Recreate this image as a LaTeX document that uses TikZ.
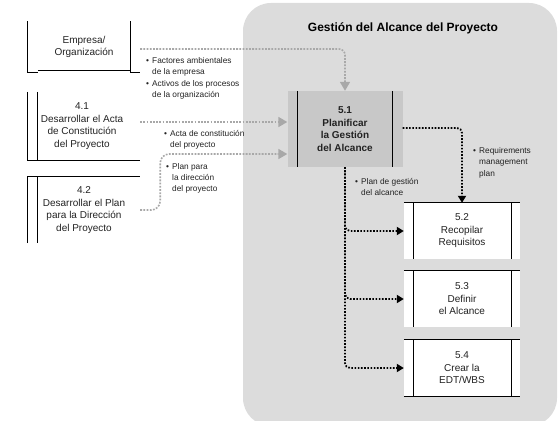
\documentclass[tikz,border=0pt]{standalone}
\usepackage{fontspec}
\setmainfont{Liberation Sans}
\usetikzlibrary{arrows.meta}

\definecolor{zonegray}{HTML}{DCDCDC}
\definecolor{boxgray}{HTML}{C8C8C8}
\definecolor{flowgray}{HTML}{A8A8A8}
\definecolor{inkgray}{HTML}{222222}

\newcommand{\bul}{\makebox[6pt][l]{\textbullet}}
\newcommand{\ind}{\hspace*{6pt}}

\begin{document}
\begin{tikzpicture}[x=1pt,y=-1pt,
  proc/.style={minimum width=112pt,inner sep=0pt,align=center,text=inkgray,font=\fontsize{10}{12.5}\selectfont},
  stage/.style={minimum width=116pt,minimum height=56pt,fill=white,inner sep=0pt,align=center,text=inkgray,font=\fontsize{10}{12.5}\selectfont},
  note/.style={anchor=north west,inner sep=0pt,align=left,text=inkgray,font=\fontsize{8.3}{11.5}\selectfont},
  edge/.style={draw=black,line width=1.2pt},
  grayflow/.style={draw=flowgray,line width=1.6pt,dash pattern=on 1.8pt off 1.4pt,-{Triangle[length=9pt,width=10pt]},rounded corners=6pt},
  blackflow/.style={draw=black,line width=1.8pt,dash pattern=on 1.6pt off 1.6pt,-{Triangle[length=7pt,width=8pt]},rounded corners=5pt}]
\useasboundingbox (0,0) rectangle (559,420);

% process group
\fill[zonegray,rounded corners=28pt] (243,3) rectangle (557,426);
\node[font=\bfseries\fontsize{12}{14}\selectfont] (ttl) at (403,28) {Gestión del Alcance del Proyecto};

% outside inputs
\node[proc,minimum height=51pt] (emp) at (84,47) {Empresa/\\Organización};
\node[proc,minimum height=68pt] (a41) at (82,126) {4.1\\Desarrollar el Acta\\de Constitución\\del Proyecto};
\node[proc,minimum height=66pt] (a42) at (84,210) {4.2\\Desarrollar el Plan\\para la Dirección\\del Proyecto};

\draw[edge] (emp.north west) -- (emp.south west) -- ++(10,0);
\draw[edge] ([xshift=10pt,yshift=2pt]emp.south west) -- ([xshift=-10pt,yshift=2pt]emp.south east);
\draw[edge] ([xshift=-10pt]emp.north east) -- ([xshift=-10pt]emp.south east) -- (emp.south east);
\draw[edge] ([xshift=2pt]a41.north west) -- ([xshift=2pt]a41.south west) -- ([xshift=2pt]a41.south east);
\draw[edge] ([xshift=12pt]a41.north west) -- ([xshift=12pt]a41.south west);
\draw[edge] (a42.south west) -- (a42.north west) -- (a42.north east);
\draw[edge] ([xshift=10pt]a42.north west) -- ([xshift=10pt]a42.south west);

% processes
\node[stage,fill=boxgray,minimum width=115pt,minimum height=76pt,font=\bfseries\fontsize{10}{12.5}\selectfont] (p51) at (345,129) {5.1\\Planificar\\la Gestión\\del Alcance};
\draw[edge] ([xshift=10pt]p51.north west) -- ([xshift=10pt]p51.south west);
\draw[edge] ([xshift=-10pt]p51.north east) -- ([xshift=-10pt]p51.south east);

\node[stage] (r52) at (462,231) {5.2\\Recopilar\\Requisitos};
\node[stage] (r53) at (462,299) {5.3\\Definir\\el Alcance};
\node[stage] (r54) at (462,368) {5.4\\Crear la\\EDT/WBS};
\foreach \s in {r52,r53,r54} {
  \draw[edge] (\s.north west) -- (\s.north east);
  \draw[edge] ([xshift=10pt]\s.north west) -- ([xshift=10pt]\s.south west);
  \draw[edge] ([xshift=-9pt]\s.north east) -- ([xshift=-9pt]\s.south east);
}
\draw[edge] (r54.south west) -- (r54.south east);

% inputs to 5.1
\draw[grayflow] ([yshift=-2pt]emp.east) -| (p51.north);
\draw[grayflow] ([yshift=7pt]p51.west -| emp.east) -- ([yshift=7pt]p51.west);
\draw[grayflow,rounded corners=9pt] (a42.east) -- ++(20,0) |- ([yshift=-25pt]p51.west);

\node[note] (nfa) at (146,57) {\bul Factores ambientales\\\ind de la empresa\\\bul Activos de los procesos\\\ind de la organización};
\node[note] (nac) at (164,130) {\bul Acta de constitución\\\ind del proyecto};
\node[note,font=\fontsize{8.3}{11}\selectfont] (npd) at (166,163) {\bul Plan para\\\ind la dirección\\\ind del proyecto};

% outputs of 5.1
\draw[blackflow] ([yshift=1pt]p51.east) -| (r52.north);
\foreach \s in {r52,r53,r54}
  \draw[blackflow] (p51.south) |- (\s.west);

\node[note] (nrm) at (473,147) {\bul Requirements\\\ind management\\\ind plan};
\node[note] (npg) at (355,178) {\bul Plan de gestión\\\ind del alcance};
\end{tikzpicture}
\end{document}
